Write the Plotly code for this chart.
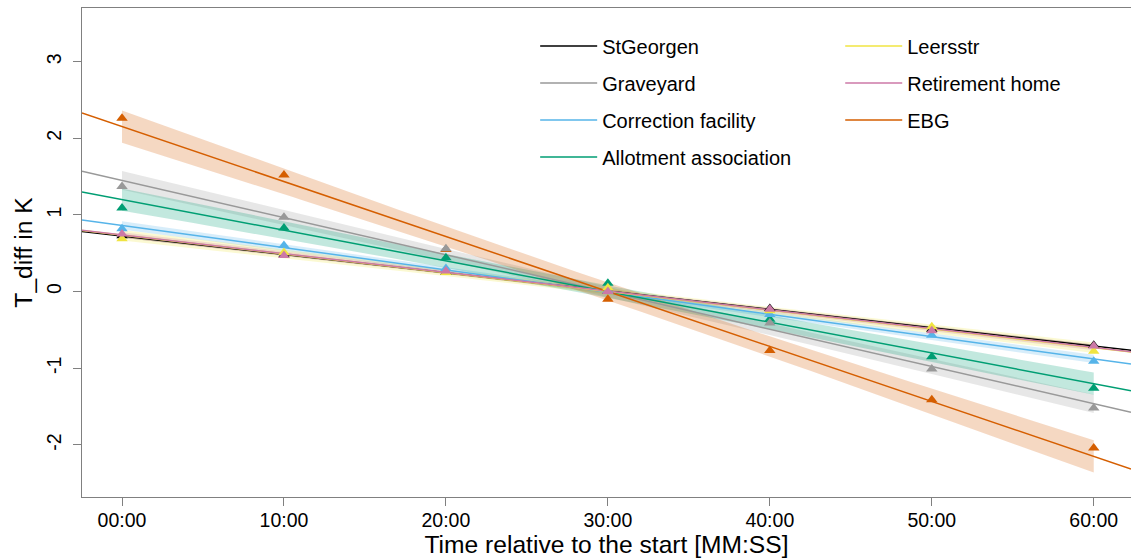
import numpy as np
import plotly.graph_objects as go

# Measurement times (minutes after start) and their axis labels
minutes = [0, 10, 20, 30, 40, 50, 60]
tick_labels = ["00:00", "10:00", "20:00", "30:00", "40:00", "50:00", "60:00"]
y_ticks = [-2, -1, 0, 1, 2, 3]
y_tick_labels = ["-2", "-1", "0", "1", "2", "3"]

# Temperature difference per site (K)
st_georgen = [0.73, 0.48, 0.25, 0.00, -0.22, -0.49, -0.70]
graveyard = [1.37, 0.97, 0.56, 0.00, -0.41, -1.01, -1.52]
correction_facility = [0.82, 0.60, 0.30, 0.01, -0.30, -0.57, -0.91]
allotment_association = [1.09, 0.83, 0.44, 0.11, -0.36, -0.85, -1.26]
leersstr = [0.69, 0.51, 0.25, 0.05, -0.25, -0.46, -0.78]
retirement_home = [0.75, 0.47, 0.27, 0.00, -0.23, -0.51, -0.71]
ebg = [2.26, 1.52, 0.55, -0.10, -0.77, -1.41, -2.04]

sites = [
    ("StGeorgen", st_georgen, "#000000", "legend"),
    ("Graveyard", graveyard, "#999999", "legend"),
    ("Correction facility", correction_facility, "#56B4E9", "legend"),
    ("Allotment association", allotment_association, "#009E73", "legend"),
    ("Leersstr", leersstr, "#F0E442", "legend2"),
    ("Retirement home", retirement_home, "#CC79A7", "legend2"),
    ("EBG", ebg, "#D55E00", "legend2"),
]
# order in which the point markers are stacked
point_order = ["StGeorgen", "EBG", "Allotment association", "Correction facility",
               "Graveyard", "Leersstr", "Retirement home"]

X_RANGE = [-2.47, 62.3]
Y_RANGE = [-2.68, 3.70]
T_975_DF5 = 2.570582  # two-sided 95 % t quantile, 5 degrees of freedom


def rgba(hex_color, alpha):
    h = hex_color.lstrip("#")
    r, g, b = (int(h[i:i + 2], 16) for i in (0, 2, 4))
    return f"rgba({r},{g},{b},{alpha})"


def linear_fit(x, y):
    x = np.asarray(x, float)
    y = np.asarray(y, float)
    slope, intercept = np.polyfit(x, y, 1)
    n = len(x)
    resid = y - (intercept + slope * x)
    s = np.sqrt(np.sum(resid ** 2) / (n - 2))
    sxx = np.sum((x - x.mean()) ** 2)
    return slope, intercept, s, x.mean(), sxx, n


fig = go.Figure()
fits = {name: linear_fit(minutes, vals) for name, vals, col, leg in sites}

# 95 % confidence bands of the regression, over the observed period
xs = np.linspace(min(minutes), max(minutes), 121)
for name, vals, col, leg in sites:
    slope, intercept, s, xbar, sxx, n = fits[name]
    yhat = intercept + slope * xs
    half = T_975_DF5 * s * np.sqrt(1.0 / n + (xs - xbar) ** 2 / sxx)
    fig.add_trace(go.Scatter(
        x=np.concatenate([xs, xs[::-1]]),
        y=np.concatenate([yhat + half, (yhat - half)[::-1]]),
        fill="toself", fillcolor=rgba(col, 0.24), line=dict(width=0),
        mode="lines", hoverinfo="skip", showlegend=False,
    ))

# regression lines across the whole plotting region
for name, vals, col, leg in sites:
    slope, intercept, *_ = fits[name]
    xl = np.array(X_RANGE)
    fig.add_trace(go.Scatter(
        x=xl, y=intercept + slope * xl, mode="lines", name=name,
        line=dict(color=col, width=1.5), legend=leg, legendgroup=name,
    ))

# observations
lookup = {name: (vals, col) for name, vals, col, leg in sites}
for name in point_order:
    vals, col = lookup[name]
    fig.add_trace(go.Scatter(
        x=minutes, y=vals, mode="markers", showlegend=False,
        marker=dict(symbol="triangle-up", size=10, color=col),
    ))

FONT = "Liberation Sans, Arial, sans-serif"
legend_style = dict(
    font=dict(family=FONT, size=20, color="#000000"),
    bgcolor="rgba(0,0,0,0)", borderwidth=0, tracegroupgap=8,
    yanchor="top", xanchor="left", itemwidth=57,
)
fig.update_layout(
    width=1131, height=560,
    margin=dict(l=82, r=0, t=8, b=63),
    paper_bgcolor="white", plot_bgcolor="white",
    font=dict(family=FONT, color="#000000"),
    legend=dict(x=0.432, y=0.962, **legend_style),
    legend2=dict(x=0.7228, y=0.962, **legend_style),
    xaxis=dict(
        range=X_RANGE, tickmode="array", tickvals=minutes, ticktext=tick_labels,
        showgrid=False, zeroline=False, showline=True, linecolor="#808080",
        linewidth=1, mirror=True, ticks="outside", ticklen=8, tickcolor="#808080",
        ticklabelstandoff=-2,
        tickfont=dict(family=FONT, size=19.5, color="#000000"),
        title=dict(text="Time relative to the start [MM:SS]", standoff=2,
                   font=dict(family=FONT, size=24.6, color="#000000")),
    ),
    yaxis=dict(
        range=Y_RANGE, tickmode="array", tickvals=y_ticks, ticktext=y_tick_labels,
        showgrid=False, zeroline=False, showline=True, linecolor="#808080",
        linewidth=1, ticks="outside", ticklen=8, tickcolor="#808080",
        tickangle=-90, ticklabelstandoff=4,
        tickfont=dict(family=FONT, size=19.5, color="#000000"),
        title=dict(text="T_diff in K", standoff=3,
                   font=dict(family=FONT, size=24.6, color="#000000")),
    ),
)

fig.write_html("out.html")
